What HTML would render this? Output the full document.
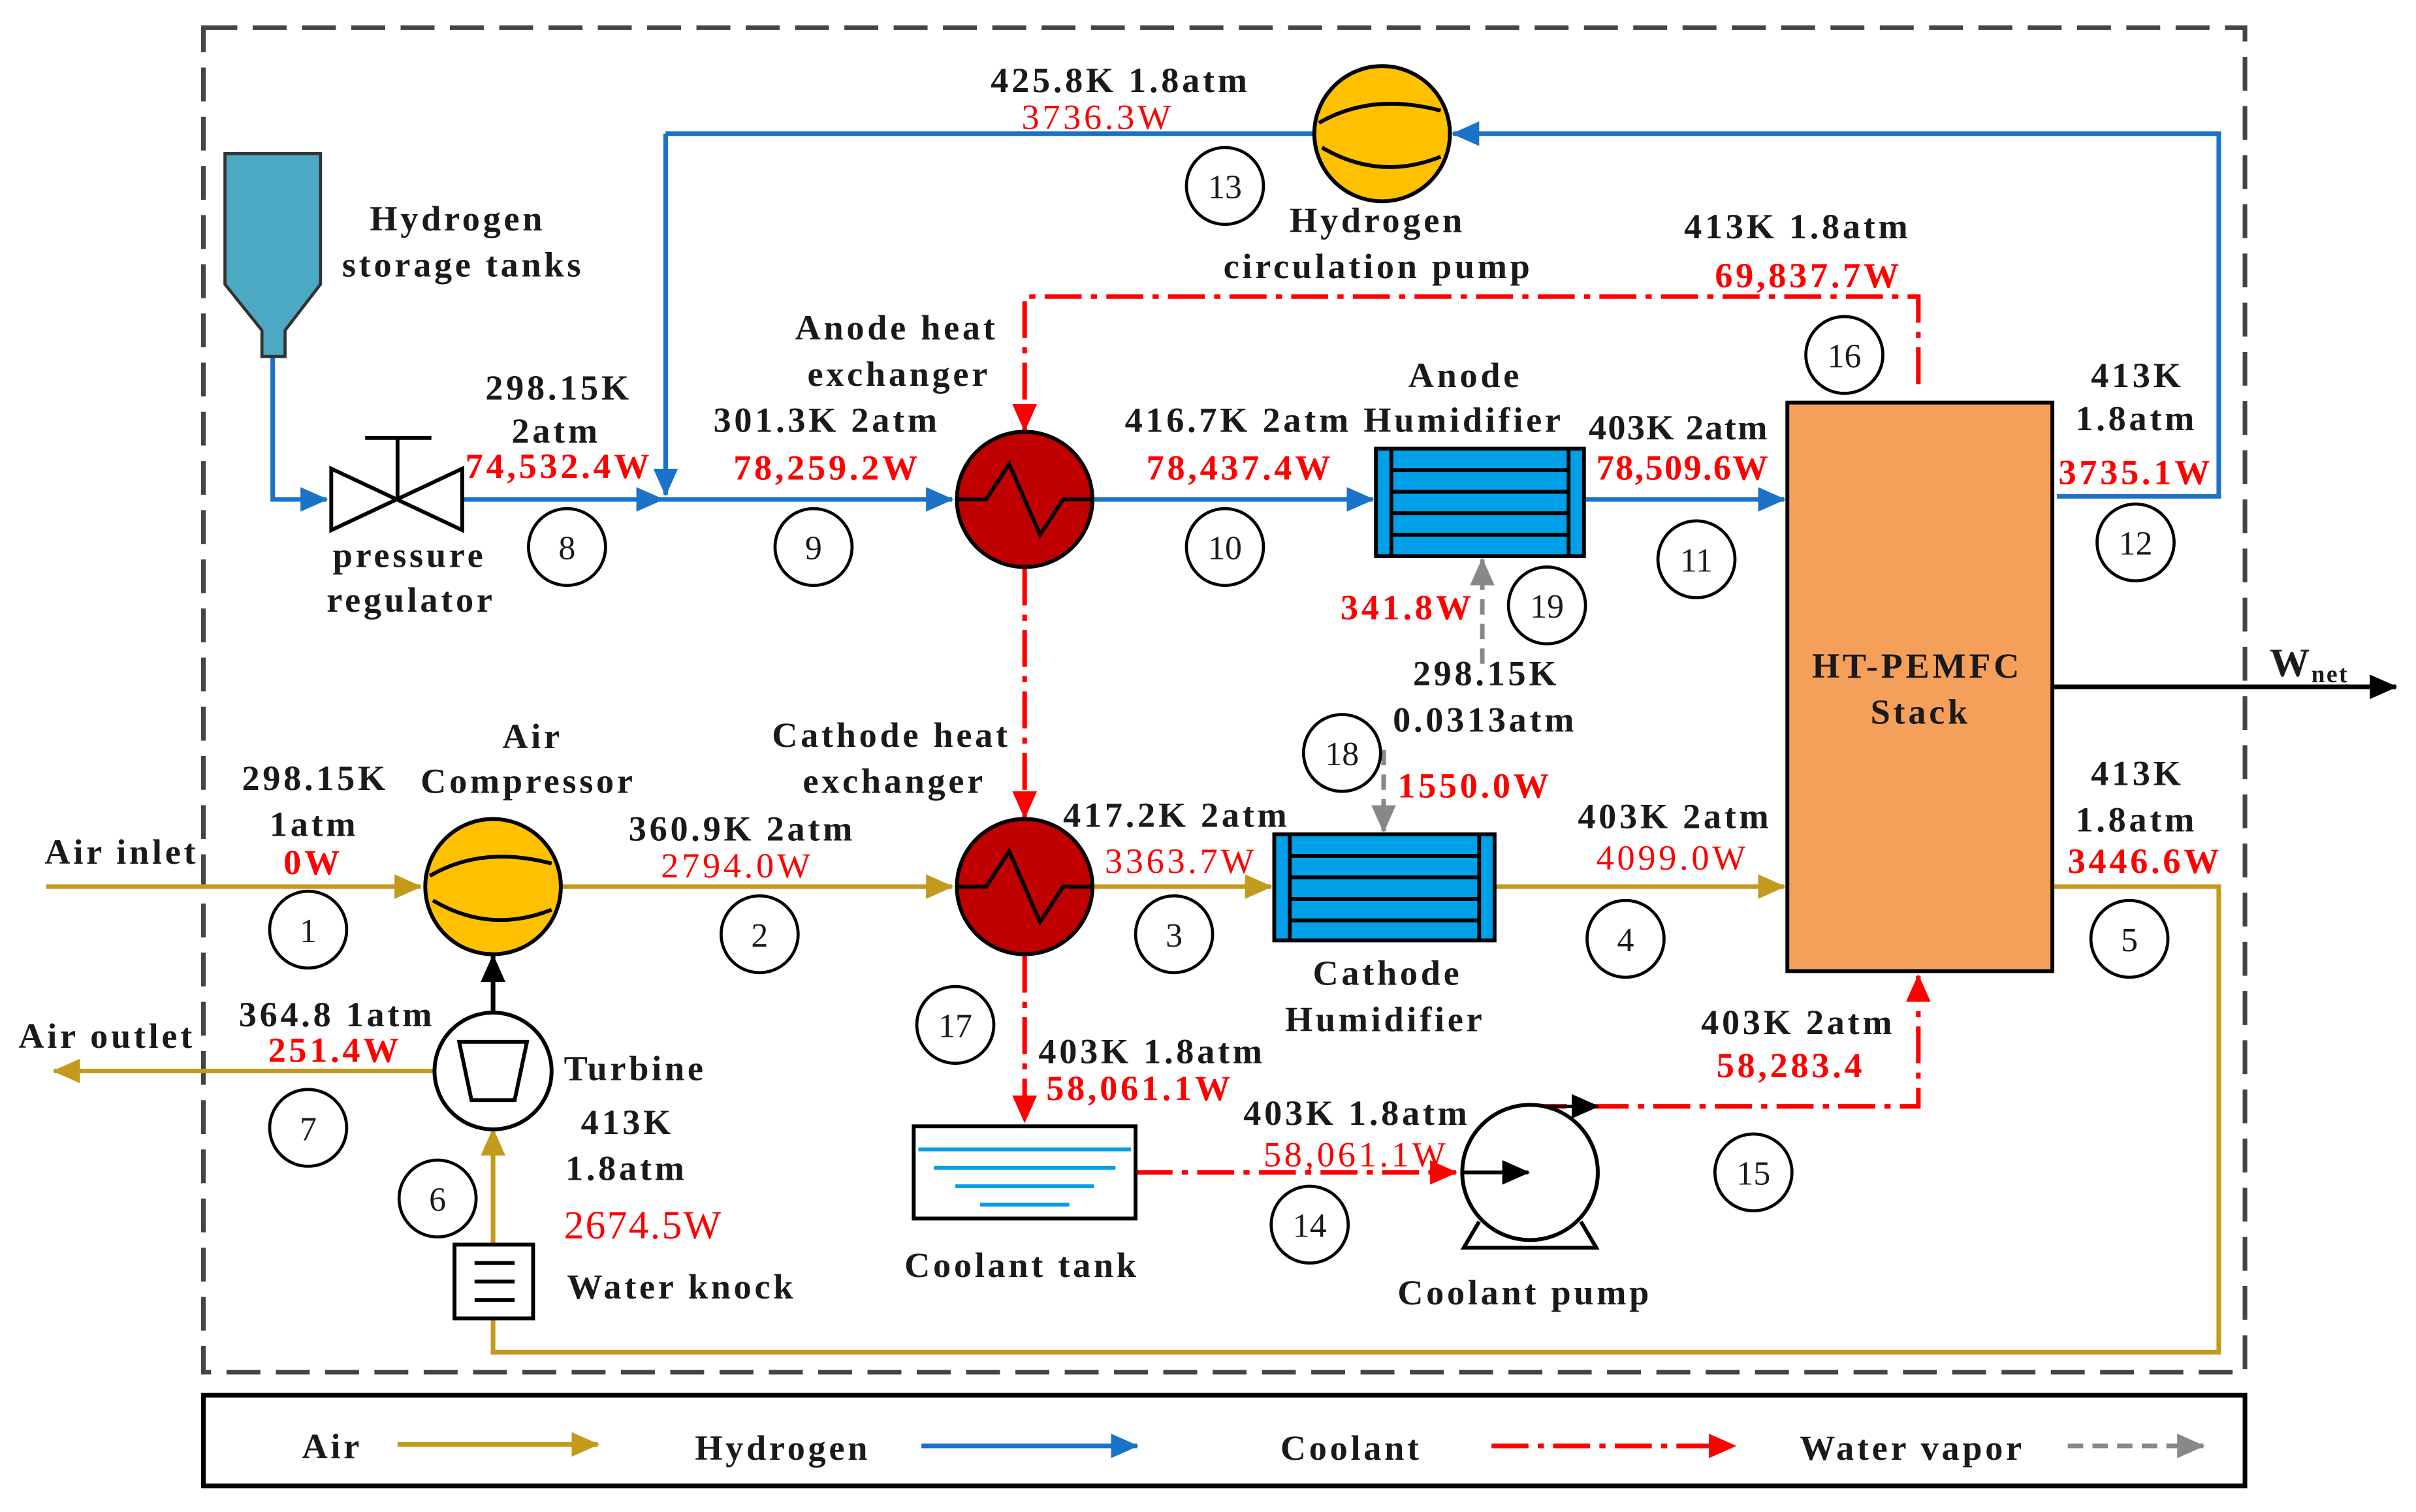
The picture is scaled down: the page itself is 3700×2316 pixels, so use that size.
<!DOCTYPE html>
<html><head><meta charset="utf-8"><style>
html,body{margin:0;padding:0;background:#fff;}
svg{display:block;}
text{font-family:"Liberation Serif",serif;font-weight:bold;font-size:23px;fill:#1a1a1a;letter-spacing:2px;}
.r{fill:#ff0000;}
.n{font-weight:normal;font-size:22px;text-anchor:middle;letter-spacing:0;}
</style></head><body>
<svg width="3700" height="2316" viewBox="0 0 1568 984" preserveAspectRatio="none" xmlns="http://www.w3.org/2000/svg">
<defs>
<marker id="ay" markerWidth="18" markerHeight="16" refX="17" refY="8" orient="auto" markerUnits="userSpaceOnUse" viewBox="0 0 18 16"><path d="M0,0 L18,8 L0,16 z" fill="#C49A1C"/></marker>
<marker id="ab" markerWidth="18" markerHeight="16" refX="17" refY="8" orient="auto" markerUnits="userSpaceOnUse" viewBox="0 0 18 16"><path d="M0,0 L18,8 L0,16 z" fill="#1A73C8"/></marker>
<marker id="ar" markerWidth="18" markerHeight="16" refX="17" refY="8" orient="auto" markerUnits="userSpaceOnUse" viewBox="0 0 18 16"><path d="M0,0 L18,8 L0,16 z" fill="#ff0000"/></marker>
<marker id="ag" markerWidth="18" markerHeight="16" refX="17" refY="8" orient="auto" markerUnits="userSpaceOnUse" viewBox="0 0 18 16"><path d="M0,0 L18,8 L0,16 z" fill="#888"/></marker>
<marker id="ak" markerWidth="18" markerHeight="16" refX="17" refY="8" orient="auto" markerUnits="userSpaceOnUse" viewBox="0 0 18 16"><path d="M0,0 L18,8 L0,16 z" fill="#000"/></marker>
</defs>
<rect x="132" y="18" width="1325" height="875" fill="none" stroke="#444" stroke-width="3" stroke-dasharray="22,10"/>
<rect x="132" y="908" width="1325" height="59" fill="none" stroke="#000" stroke-width="3"/>

<g fill="none" stroke="#1A73C8" stroke-width="3">
<path d="M177,232 V325 H212" marker-end="url(#ab)"/>
<path d="M300,325 H430" marker-end="url(#ab)"/>
<path d="M430,325 H618" marker-end="url(#ab)"/>
<path d="M432,87 V322" marker-end="url(#ab)"/>
<path d="M432,87 H853"/>
<path d="M710,325 H891" marker-end="url(#ab)"/>
<path d="M1028,325 H1158" marker-end="url(#ab)"/>
<path d="M1335,323 H1440 V87 H943" marker-end="url(#ab)"/>
</g>
<g fill="none" stroke="#C49A1C" stroke-width="3">
<path d="M30,577 H273" marker-end="url(#ay)"/>
<path d="M365,577 H618" marker-end="url(#ay)"/>
<path d="M710,577 H825" marker-end="url(#ay)"/>
<path d="M970,577 H1158" marker-end="url(#ay)"/>
<path d="M1332,577 H1440 V880 H320 V858"/>
<path d="M320,810 V735" marker-end="url(#ay)"/>
<path d="M282,697 H35" marker-end="url(#ay)"/>
</g>
<g fill="none" stroke="#ff0000" stroke-width="3" stroke-dasharray="24,6,4,6">
<path d="M1245,250 V193 H665 V280" marker-end="url(#ar)"/>
<path d="M665,370 V532" marker-end="url(#ar)"/>
<path d="M665,622 V730" marker-end="url(#ar)"/>
<path d="M737,763 H945" marker-end="url(#ar)"/>
<path d="M993,720 H1245 V635" marker-end="url(#ar)"/>
</g>
<path d="M993,720 H1037" stroke="#000" stroke-width="2" marker-end="url(#ak)"/>
<g fill="none" stroke="#888" stroke-width="3" stroke-dasharray="10,6">
<path d="M962,432 V364" marker-end="url(#ag)"/>
<path d="M898,488 V541" marker-end="url(#ag)"/>
</g>
<path d="M1332,447 H1555" stroke="#000" stroke-width="3" marker-end="url(#ak)"/>
<path d="M320,659 V622" stroke="#000" stroke-width="3" marker-end="url(#ak)"/>

<path d="M146,100 H208 V185 L185,215 V232 H170 V215 L146,185 Z" fill="#4BA9C4" stroke="#333" stroke-width="2"/>
<path d="M215,305 L300,345 V305 L215,345 Z" fill="#fff" stroke="#000" stroke-width="2.5"/>
<path d="M258,325 V285 M237,285 H280" stroke="#000" stroke-width="2.5"/>
<g stroke="#000" stroke-width="2.5">
<circle cx="665" cy="325" r="44" fill="#C00000"/>
<path d="M622,325 L640,325 L655,302 L675,348 L690,325 L708,325" fill="none"/>
<circle cx="665" cy="577" r="44" fill="#C00000"/>
<path d="M622,577 L640,577 L655,554 L675,600 L690,577 L708,577" fill="none"/>
<circle cx="897" cy="87" r="44" fill="#FFC000"/>
<path d="M856,80 Q890,60 935,72 M858,96 Q895,118 935,102" fill="none"/>
<circle cx="320" cy="577" r="44" fill="#FFC000"/>
<path d="M279,570 Q313,550 358,562 M281,586 Q318,608 358,592" fill="none"/>
<circle cx="320" cy="697" r="38" fill="#fff"/>
<path d="M298,678 H342 L334,716 H306 Z" fill="#fff"/>
<rect x="295" y="810" width="51" height="48" fill="#fff"/>
<path d="M308,822 H334 M308,834 H334 M308,846 H334" fill="none"/>
<rect x="1160" y="262" width="172" height="370" fill="#F4A05A"/>
<rect x="893" y="292" width="135" height="70" fill="#00A0E8"/>
<path d="M903,292 V362 M1018,292 V362 M903,306 H1018 M903,320 H1018 M903,334 H1018 M903,348 H1018" fill="none"/>
<rect x="827" y="543" width="143" height="69" fill="#00A0E8"/>
<path d="M837,543 V612 M960,543 V612 M837,557 H960 M837,571 H960 M837,585 H960 M837,599 H960" fill="none"/>
<rect x="593" y="733" width="144" height="60" fill="#fff"/>
<circle cx="993" cy="763" r="44" fill="#fff"/>
<path d="M960,795 L950,812 H1036 L1026,795" fill="none"/>
</g>
<path d="M950,763 H992" stroke="#000" stroke-width="2.5" marker-end="url(#ak)"/>
<path d="M596,748 H734 M606,760 H724 M620,772 H710 M636,784 H694" stroke="#00A0E8" stroke-width="2.5"/>

<g fill="#fff" stroke="#000" stroke-width="2">
<circle cx="200" cy="605" r="25"/><circle cx="493" cy="608" r="25"/><circle cx="762" cy="608" r="25"/>
<circle cx="1055" cy="611" r="25"/><circle cx="1382" cy="611" r="25"/><circle cx="284" cy="780" r="25"/>
<circle cx="200" cy="734" r="25"/><circle cx="368" cy="356" r="25"/><circle cx="528" cy="356" r="25"/>
<circle cx="795" cy="356" r="25"/><circle cx="1101" cy="364" r="25"/><circle cx="1386" cy="353" r="25"/>
<circle cx="795" cy="121" r="25"/><circle cx="850" cy="797" r="25"/><circle cx="1138" cy="763" r="25"/>
<circle cx="1197" cy="231" r="25"/><circle cx="620" cy="667" r="25"/><circle cx="871" cy="490" r="25"/>
<circle cx="1004" cy="394" r="25"/>
</g>
<text class="n" x="200" y="613">1</text><text class="n" x="493" y="616">2</text><text class="n" x="762" y="616">3</text>
<text class="n" x="1055" y="619">4</text><text class="n" x="1382" y="619">5</text><text class="n" x="284" y="788">6</text>
<text class="n" x="200" y="742">7</text><text class="n" x="368" y="364">8</text><text class="n" x="528" y="364">9</text>
<text class="n" x="795" y="364">10</text><text class="n" x="1101" y="372">11</text><text class="n" x="1386" y="361">12</text>
<text class="n" x="795" y="129">13</text><text class="n" x="850" y="805">14</text><text class="n" x="1138" y="771">15</text>
<text class="n" x="1197" y="239">16</text><text class="n" x="620" y="675">17</text><text class="n" x="871" y="498">18</text>
<text class="n" x="1004" y="402">19</text>

<text x="240" y="150">Hydrogen</text>
<text x="222" y="180">storage tanks</text>
<text x="216" y="369">pressure</text>
<text x="212" y="398">regulator</text>
<text x="315" y="260">298.15K</text>
<text x="332" y="288">2atm</text>
<text class="r" x="302" y="311">74,532.4W</text>
<text x="463" y="281">301.3K 2atm</text>
<text class="r" x="476" y="312">78,259.2W</text>
<text x="516" y="221">Anode heat</text>
<text x="524" y="251">exchanger</text>
<text x="643" y="60">425.8K 1.8atm</text>
<text class="r" x="663" y="84" style="font-weight:normal">3736.3W</text>
<text x="837" y="151">Hydrogen</text>
<text x="794" y="181">circulation pump</text>
<text x="1093" y="155">413K 1.8atm</text>
<text class="r" x="1113" y="187">69,837.7W</text>
<text x="914" y="252">Anode</text>
<text x="730" y="281">416.7K 2atm</text>
<text x="885" y="281">Humidifier</text>
<text class="r" x="744" y="312">78,437.4W</text>
<text x="1031" y="286" style="letter-spacing:1px">403K 2atm</text>
<text class="r" x="1036" y="312" style="letter-spacing:1px">78,509.6W</text>
<text x="1357" y="252">413K</text>
<text x="1347" y="280">1.8atm</text>
<text class="r" x="1336" y="315">3735.1W</text>
<text class="r" x="870" y="403">341.8W</text>
<text x="917" y="446">298.15K</text>
<text x="904" y="476">0.0313atm</text>
<text class="r" x="907" y="519">1550.0W</text>
<text x="1176" y="441">HT-PEMFC</text>
<text x="1214" y="471">Stack</text>
<text x="1473" y="440" style="font-size:26px;letter-spacing:1px">W<tspan style="font-size:16px" dy="4">net</tspan></text>
<text x="326" y="487">Air</text>
<text x="273" y="516">Compressor</text>
<text x="157" y="514">298.15K</text>
<text x="175" y="544">1atm</text>
<text class="r" x="184" y="569">0W</text>
<text x="29" y="562">Air inlet</text>
<text x="408" y="547">360.9K 2atm</text>
<text class="r" x="429" y="571" style="font-weight:normal">2794.0W</text>
<text x="501" y="486">Cathode heat</text>
<text x="521" y="516">exchanger</text>
<text x="690" y="538">417.2K 2atm</text>
<text class="r" x="717" y="568" style="font-weight:normal">3363.7W</text>
<text x="1024" y="539">403K 2atm</text>
<text class="r" x="1036" y="566" style="font-weight:normal">4099.0W</text>
<text x="1357" y="511">413K</text>
<text x="1347" y="541">1.8atm</text>
<text class="r" x="1342" y="568">3446.6W</text>
<text x="852" y="641">Cathode</text>
<text x="834" y="671">Humidifier</text>
<text x="12" y="682">Air outlet</text>
<text x="155" y="668">364.8 1atm</text>
<text class="r" x="174" y="691">251.4W</text>
<text x="366" y="703">Turbine</text>
<text x="377" y="738">413K</text>
<text x="367" y="768">1.8atm</text>
<text class="r" x="366" y="806" style="font-weight:normal;font-size:26px;letter-spacing:1px">2674.5W</text>
<text x="368" y="845">Water knock</text>
<text x="674" y="692">403K 1.8atm</text>
<text class="r" x="679" y="716">58,061.1W</text>
<text x="807" y="732">403K 1.8atm</text>
<text class="r" x="820" y="759" style="font-weight:normal">58,061.1W</text>
<text x="1104" y="673">403K 2atm</text>
<text class="r" x="1114" y="701">58,283.4</text>
<text x="587" y="831">Coolant tank</text>
<text x="907" y="849">Coolant pump</text>
<text x="196" y="949">Air</text>
<path d="M258,940 H388" stroke="#C49A1C" stroke-width="3" marker-end="url(#ay)"/>
<text x="451" y="950">Hydrogen</text>
<path d="M598,941 H738" stroke="#1A73C8" stroke-width="3" marker-end="url(#ab)"/>
<text x="831" y="950">Coolant</text>
<path d="M968,941 H1126" stroke="#ff0000" stroke-width="3" stroke-dasharray="24,6,4,6" marker-end="url(#ar)"/>
<text x="1168" y="950">Water vapor</text>
<path d="M1342,941 H1430" stroke="#888" stroke-width="3" stroke-dasharray="10,6" marker-end="url(#ag)"/>
</svg>
</body></html>
